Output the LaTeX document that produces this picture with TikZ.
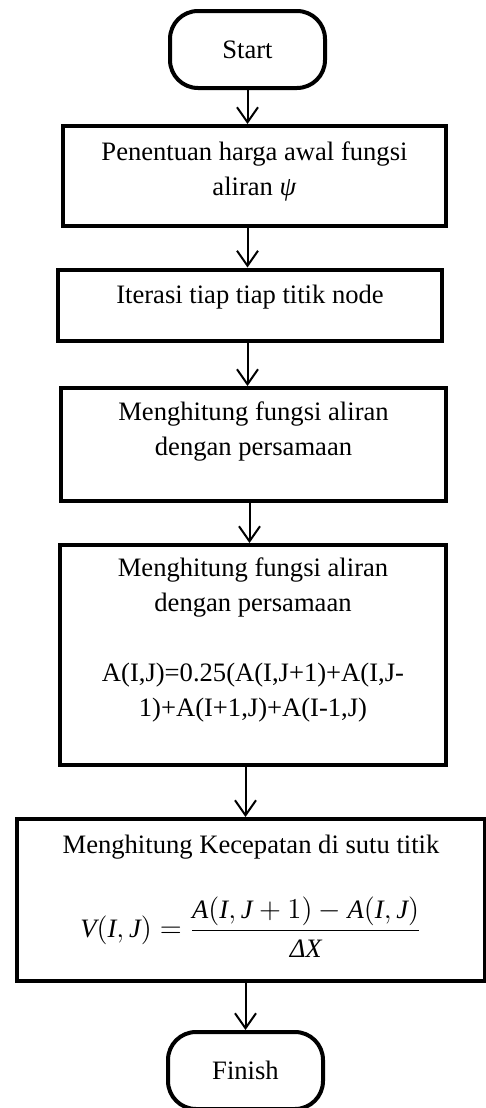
\documentclass[tikz,border=0pt]{standalone}
\usepackage{amsmath}
\usepackage{fontspec}
\setmainfont{Liberation Serif}
\usetikzlibrary{arrows.meta}
\newcommand{\iv}[1]{\text{\itshape #1}}
\begin{document}
\begin{tikzpicture}[x=0.5pt,y=-0.5pt,
  boxst/.style={draw,line width=2pt,inner sep=0pt},
  termst/.style={draw,line width=2pt,rounded corners=14pt,inner sep=0pt},
  txt/.style={align=center,inner sep=0pt,font=\fontsize{13.3}{17.5}\selectfont},
  arr/.style={line width=1pt,-{Straight Barb[length=7.5pt,width=10.5pt,line width=1pt]}}]
\useasboundingbox (0,0) rectangle (486,1108);
\node[termst,minimum width=155*0.5pt,minimum height=77*0.5pt] (start) at (247.5,49.5) {};
\node[txt] (tstart) at (247.5,49.5) {Start};
\node[boxst,minimum width=383*0.5pt,minimum height=100*0.5pt] (b1) at (254.5,176) {};
\node[txt] (t1) at (254.5,171) {Penentuan harga awal fungsi\\aliran \textit{ψ}};
\node[boxst,minimum width=384*0.5pt,minimum height=71*0.5pt] (b2) at (250,305) {};
\node[txt] (t2) at (250,297) {Iterasi tiap tiap titik node};
\node[boxst,minimum width=385*0.5pt,minimum height=113*0.5pt] (b3) at (253.5,444.5) {};
\node[txt] (t3) at (253.5,432) {Menghitung fungsi aliran\\dengan persamaan};
\node[boxst,minimum width=386*0.5pt,minimum height=220*0.5pt] (b4) at (253,655) {};
\node[txt] (t4) at (253,640) {Menghitung fungsi aliran\\dengan persamaan\\[17.5pt]A(I,J)=0.25(A(I,J+1)+A(I,J-\\1)+A(I+1,J)+A(I-1,J)};
\node[boxst,minimum width=468*0.5pt,minimum height=162*0.5pt] (b5) at (251,900) {};
\node[txt] (t5a) at (251,847) {Menghitung Kecepatan di sutu titik};
\node[txt] (t5b) at (251,927) {$\iv{V}(\iv{I},\iv{J})=\dfrac{\iv{A}(\iv{I},\iv{J}+1)-\iv{A}(\iv{I},\iv{J})}{\iv{ΔX}}$};
\node[termst,minimum width=155*0.5pt,minimum height=77*0.5pt] (fin) at (245.5,1070.5) {};
\node[txt] (tfin) at (245.5,1070) {Finish};
\draw[arr] (start.south) -- (start.south |- b1.north);
\draw[arr] (b1.south -| start.south) -- (b2.north -| start.south);
\draw[arr] (b2.south -| start.south) -- (b3.north -| start.south);
\draw[arr] ([xshift=1pt]b3.south -| start.south) -- ([xshift=1pt]b4.north -| start.south);
\draw[arr] (b4.south -| fin.north) -- (b5.north -| fin.north);
\draw[arr] (b5.south -| fin.north) -- (fin.north);
\end{tikzpicture}
\end{document}
